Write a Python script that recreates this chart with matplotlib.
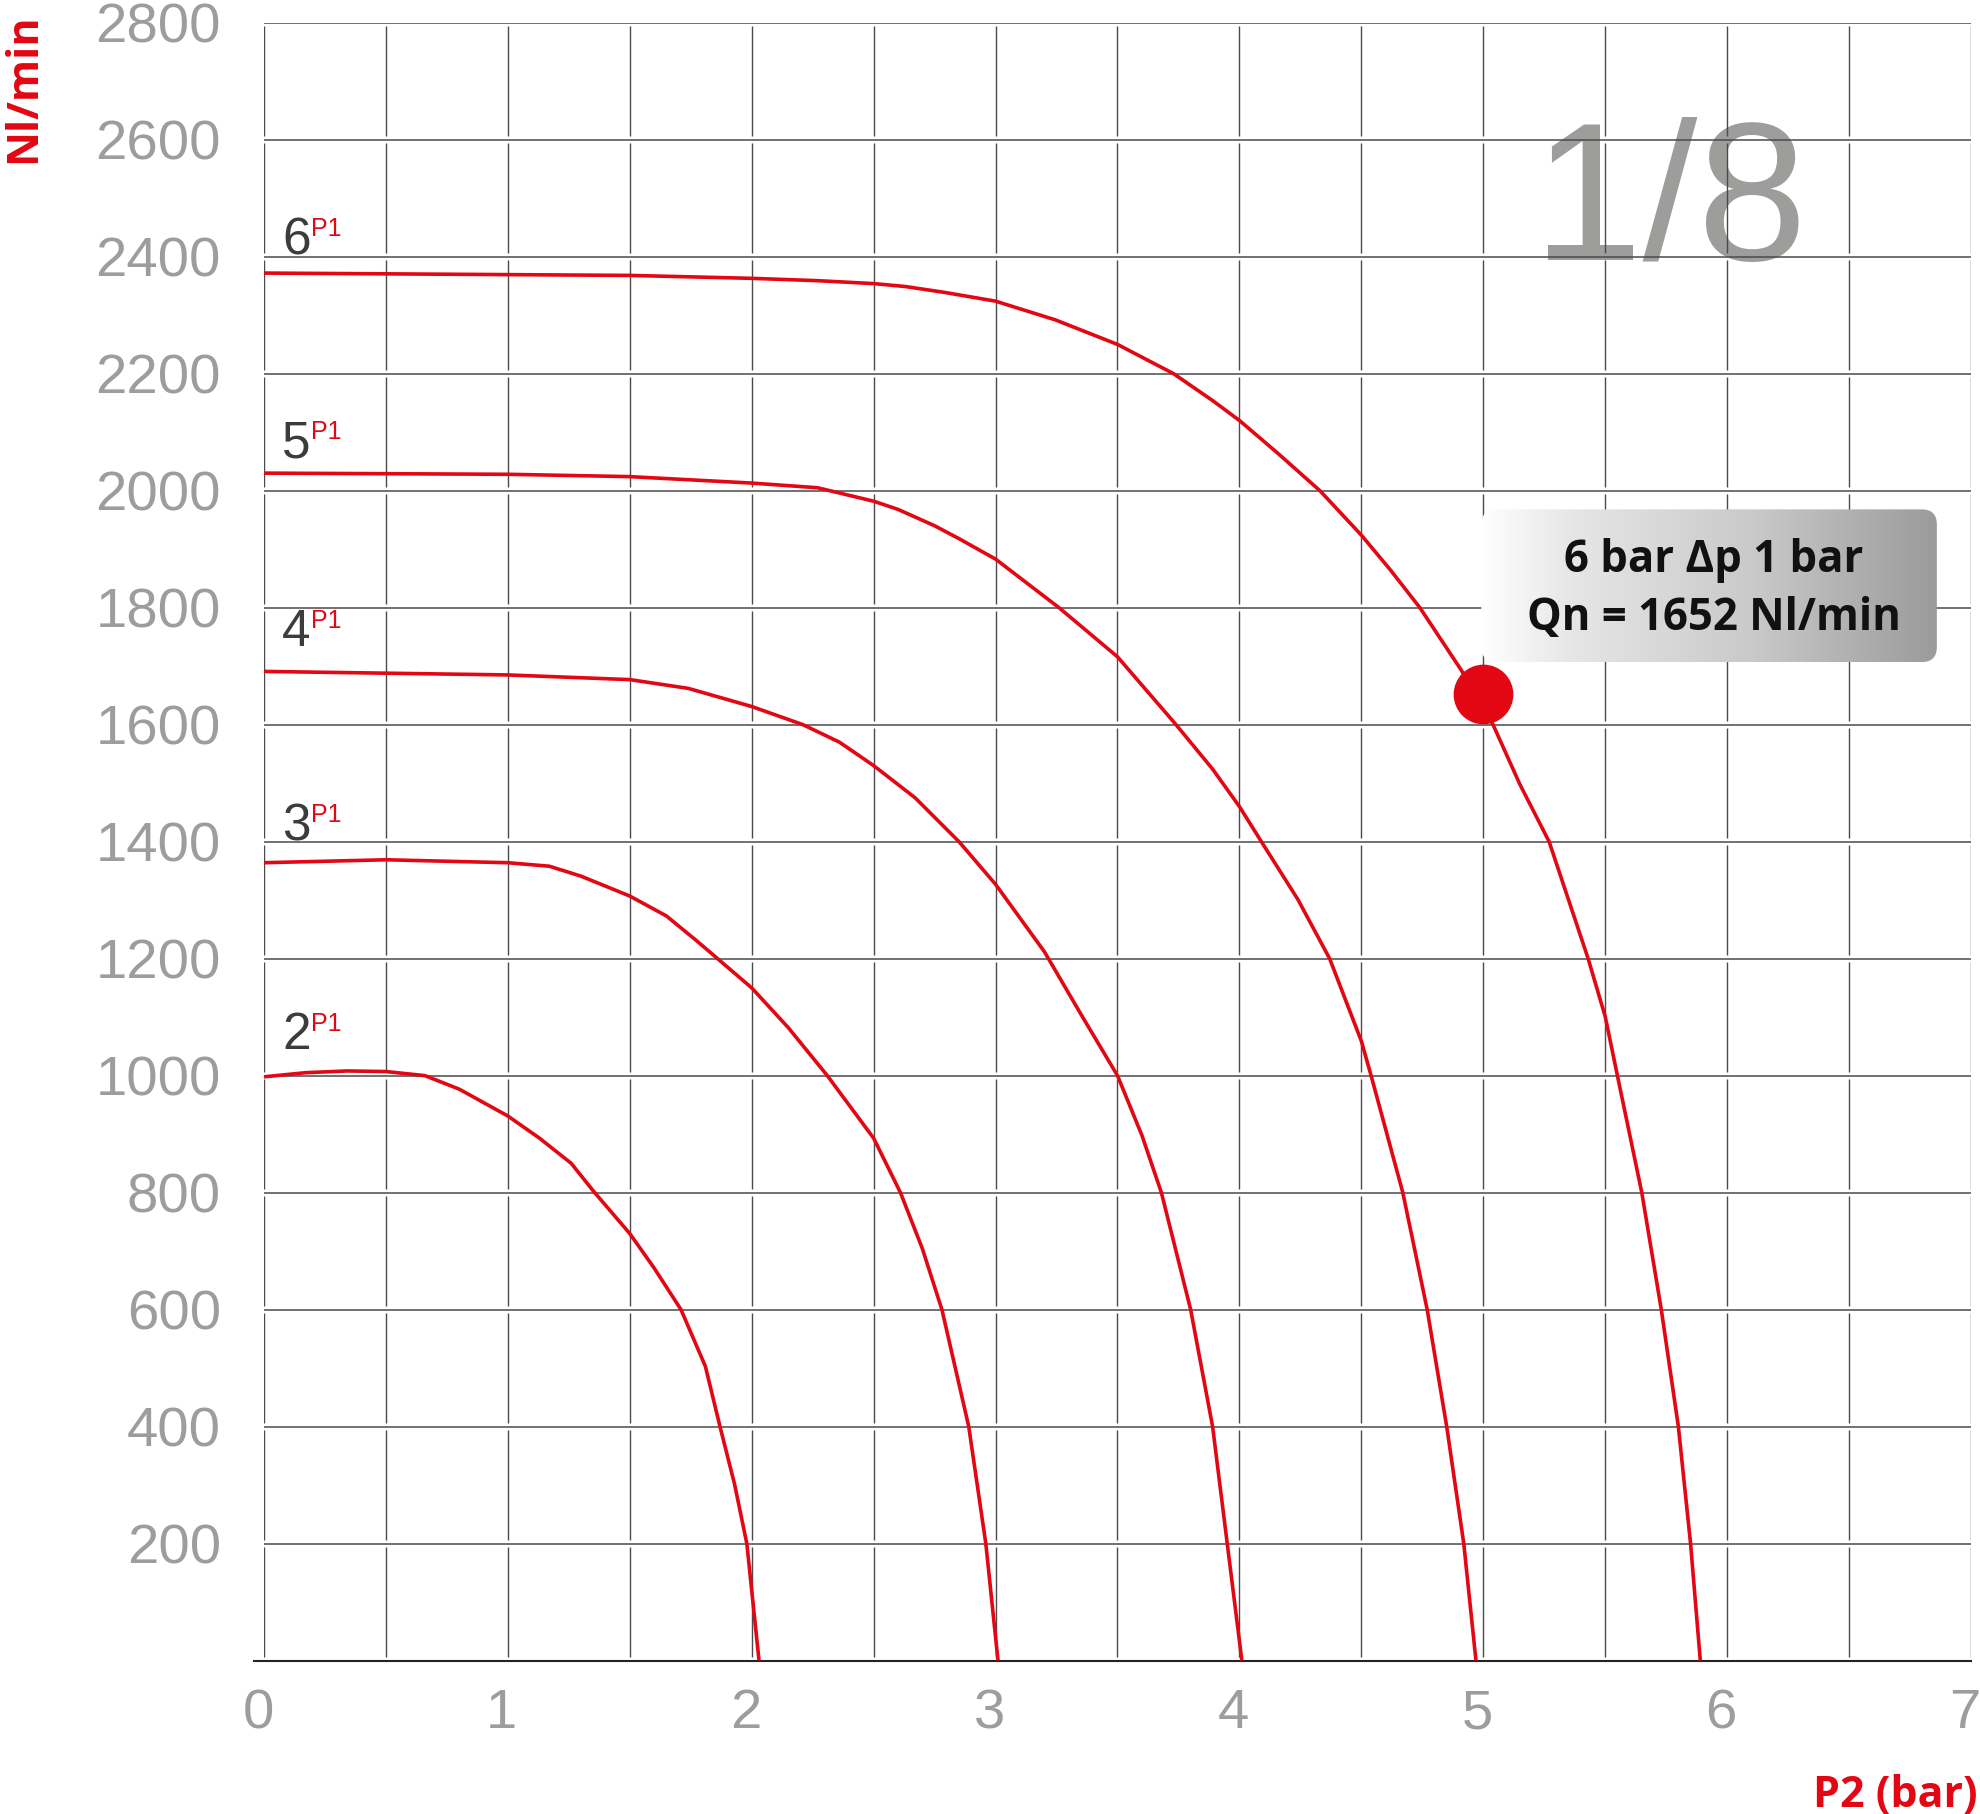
import matplotlib
matplotlib.use("Agg")
import matplotlib.pyplot as plt
import numpy as np
from matplotlib.colors import LinearSegmentedColormap
from matplotlib.patches import FancyBboxPatch
from matplotlib.transforms import ScaledTranslation

# Flow curves: outlet pressure P2 (bar) -> flow (Nl/min), one per inlet pressure P1
p1_levels = [2, 3, 4, 5, 6]

p2_p1_2 = [0, 0.17, 0.34, 0.5, 0.66, 0.8, 1.0, 1.13, 1.26, 1.35, 1.5, 1.6,
           1.71, 1.81, 1.87, 1.93, 1.98, 2.03]
flow_p1_2 = [998, 1005, 1008, 1007, 1000, 977, 931, 893, 850, 803, 730, 671,
             600, 503, 400, 301, 200, 0]

p2_p1_3 = [0, 0.5, 1.0, 1.17, 1.3, 1.5, 1.65, 1.77, 1.86, 2.0, 2.15, 2.31,
           2.5, 2.61, 2.7, 2.78, 2.89, 2.96, 3.01]
flow_p1_3 = [1364, 1369, 1364, 1358, 1341, 1307, 1273, 1232, 1200, 1150, 1082,
             1000, 893, 800, 704, 600, 400, 200, 0]

p2_p1_4 = [0, 1.0, 1.5, 1.74, 2.0, 2.21, 2.36, 2.5, 2.67, 2.85, 3.0, 3.2,
           3.35, 3.5, 3.6, 3.68, 3.80, 3.89, 3.95, 4.01]
flow_p1_4 = [1691, 1685, 1677, 1662, 1631, 1600, 1570, 1530, 1475, 1400, 1327,
             1212, 1105, 1000, 898, 800, 600, 400, 200, 0]

p2_p1_5 = [0, 1.0, 1.5, 2.0, 2.27, 2.5, 2.6, 2.75, 2.85, 3.0, 3.26, 3.5, 3.74,
           3.89, 4.0, 4.09, 4.24, 4.37, 4.5, 4.54, 4.67, 4.77, 4.85, 4.92, 4.97]
flow_p1_5 = [2030, 2028, 2024, 2013, 2005, 1982, 1968, 1940, 1918, 1883, 1800,
             1716, 1600, 1524, 1460, 1400, 1301, 1200, 1059, 1000, 800, 600,
             400, 200, 0]

p2_p1_6 = [0, 1.5, 2.0, 2.27, 2.5, 2.63, 2.79, 3.0, 3.245, 3.5, 3.73, 3.89,
           4.0, 4.16, 4.33, 4.5, 4.62, 4.74, 4.91, 5.04, 5.15, 5.27, 5.43, 5.5,
           5.55, 5.65, 5.73, 5.80, 5.85, 5.89]
flow_p1_6 = [2372, 2368, 2363, 2359, 2354, 2349, 2339, 2324, 2292, 2250, 2200,
             2154, 2120, 2063, 2000, 1924, 1864, 1800, 1693, 1600, 1498, 1400,
             1200, 1101, 1000, 800, 600, 400, 200, 0]

curves = {
    2: (p2_p1_2, flow_p1_2),
    3: (p2_p1_3, flow_p1_3),
    4: (p2_p1_4, flow_p1_4),
    5: (p2_p1_5, flow_p1_5),
    6: (p2_p1_6, flow_p1_6),
}

x_ticks = [0, 1, 2, 3, 4, 5, 6, 7]
y_ticks = [200, 400, 600, 800, 1000, 1200, 1400, 1600, 1800, 2000, 2200,
           2400, 2600, 2800]

# highlighted operating point
point_p2 = 5.0
point_flow = 1652
badge_lines = ["6 bar \u0394p 1 bar", "Qn = 1652 Nl/min"]
size_label = "1/8"

RED = "#e30613"
GRID = "#4a4a4a"
TICK_GREY = "#9d9d9c"
LABEL_DARK = "#3c3c3b"
BOLD_FONT = ["Open Sans", "DejaVu Sans"]

plt.rcParams["font.family"] = ["Liberation Sans", "DejaVu Sans"]

W, H = 1980, 1814
fig = plt.figure(figsize=(W / 100, H / 100), dpi=100)
ax_left, ax_right, ax_top, ax_bottom = 264, 1971, 22.7, 1660.6
ax = fig.add_axes([ax_left / W, 1 - ax_bottom / H,
                   (ax_right - ax_left) / W, (ax_bottom - ax_top) / H])
for s in ax.spines.values():
    s.set_visible(False)

# horizontal grid lines
ax.hlines(y_ticks, 0, 7, color=GRID, lw=1.1, zorder=1)
# vertical grid lines, broken where they meet the horizontals
gap = 6
band_lo = np.arange(0, 2800, 200)
for xg in np.arange(0, 7.01, 0.5):
    ax.vlines(np.full(len(band_lo), xg), band_lo + gap, band_lo + 200 - gap,
              color=GRID, lw=1.0, zorder=1)
ax.plot([-0.04, 7], [0, 0], color="#222222", lw=1.5, clip_on=False, zorder=2)

# big size label behind the grid
ax.text(5.764, 2394, size_label, fontsize=142, color=TICK_GREY,
        ha="center", va="baseline", zorder=0.5)

# curves
for level in p1_levels:
    xs, ys = curves[level]
    ax.plot(xs, ys, color=RED, lw=2.6, solid_joinstyle="round",
            solid_capstyle="butt", zorder=3, clip_on=False)

# curve labels  "6^P1"
label_x = 0.074
label_y = {2: 1045, 3: 1402, 4: 1734, 5: 2056, 6: 2403}
for level in p1_levels:
    ax.text(label_x, label_y[level], str(level), fontsize=37, color=LABEL_DARK,
            ha="left", va="baseline", zorder=3)
    ax.annotate("P1", xy=(label_x, label_y[level]), xytext=(21, 13.5),
                textcoords="offset points", fontsize=18, color=RED,
                ha="left", va="baseline", zorder=3)

# operating point badge with grey gradient
bx0, bx1, by0, by1 = 4.992, 6.860, 1707, 1968
badge_cmap = LinearSegmentedColormap.from_list(
    "badge", [(0, "#ffffff"), (0.2, "#e6e6e6"), (0.6, "#c9c9c9"), (1, "#9b9b9b")])
grad = np.linspace(0, 1, 256).reshape(1, -1)
im = ax.imshow(grad, extent=[bx0, bx1, by0, by1], aspect="auto", cmap=badge_cmap,
               interpolation="bicubic", zorder=4)
aspect = (2800 / (ax_bottom - ax_top)) / (7 / (ax_right - ax_left))
clip = FancyBboxPatch((bx0, by0), bx1 - bx0, by1 - by0,
                      boxstyle="round,pad=0,rounding_size=0.062",
                      mutation_aspect=aspect, facecolor="none",
                      edgecolor="none", transform=ax.transData)
ax.add_patch(clip)
im.set_clip_path(clip)

ax.text(5.944, 1861, badge_lines[0], fontsize=31.5, fontweight="bold",
        family=BOLD_FONT, color="#111111", ha="center", va="baseline", zorder=6)
ax.text(5.944, 1762, badge_lines[1], fontsize=31.5, fontweight="bold",
        family=BOLD_FONT, color="#111111", ha="center", va="baseline", zorder=6)

ax.plot([point_p2], [point_flow], "o", ms=43, color=RED, mec="none", zorder=5)

ax.set_xlim(0, 7)
ax.set_ylim(0, 2800)

# ticks
ax.set_xticks(x_ticks)
ax.set_xticklabels([str(v) for v in x_ticks])
ax.set_yticks(y_ticks)
ax.set_yticklabels([str(v) for v in y_ticks])
ax.tick_params(axis="x", length=0, pad=20, labelsize=40.5, labelcolor=TICK_GREY)
ax.tick_params(axis="y", length=0, pad=31, labelsize=40.5, labelcolor=TICK_GREY)
shift = ScaledTranslation(-6 / 100, 0, fig.dpi_scale_trans)
for lbl in ax.get_xticklabels():
    lbl.set_transform(lbl.get_transform() + shift)

# axis titles
fig.text(1978 / W, 1 - 1806.7 / H, "P2 (bar)", fontsize=31, fontweight="bold",
         family=BOLD_FONT, color=RED, ha="right", va="baseline")
fig.text(35 / W, 1 - 163 / H, "Nl/min", fontsize=31, fontweight="bold",
         family=BOLD_FONT, color=RED, rotation=90, rotation_mode="anchor",
         ha="left", va="baseline")

fig.savefig("out.png", dpi=100)
